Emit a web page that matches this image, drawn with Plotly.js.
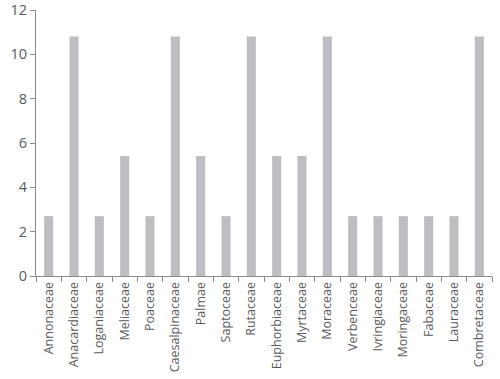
<!DOCTYPE html>
<html><head><meta charset="utf-8">
<script src="https://cdn.plot.ly/plotly-3.0.1.min.js"></script>
<style>body{margin:0;padding:0;background:#fff}#chart{width:500px;height:379px}</style>
</head><body><div id="chart"></div>
<script>
const families = ["Annonaceae","Anacardiaceae","Loganiaceae","Meliaceae","Poaceae","Caesalpinaceae","Palmae","Saptoceae","Rutaceae","Euphorbiaceae","Myrtaceae","Moraceae","Verbenceae","Ivringiaceae","Moringaceae","Fabaceae","Lauraceae","Combretaceae"];
const percentages = [2.70,10.81,2.70,5.41,2.70,10.81,5.41,2.70,10.81,5.41,5.41,10.81,2.70,2.70,2.70,2.70,2.70,10.81];
const yTicks = [0,2,4,6,8,10,12];

Plotly.newPlot('chart', [{
  type: 'bar', x: families, y: percentages,
  marker: {color: '#bdbec1'}, hoverinfo: 'none'
}], {
  width: 500, height: 379,
  margin: {l: 36, r: 8, t: 10, b: 103},
  paper_bgcolor: '#fff', plot_bgcolor: '#fff',
  bargap: 0.64,
  font: {family: 'Open Sans, sans-serif', color: '#5a5a5c'},
  xaxis: {
    type: 'category', tickangle: -90, tickfont: {size: 12.5},
    showline: true, linecolor: '#8a8a8c', linewidth: 1,
    ticks: 'outside', tickson: 'boundaries', ticklen: 5, tickcolor: '#8a8a8c',
    showgrid: false, zeroline: false, ticklabeloverflow: 'allow'
  },
  yaxis: {
    range: [0, 12], tickvals: yTicks, tickfont: {size: 14.5},
    showline: true, linecolor: '#8a8a8c', linewidth: 1,
    ticks: 'outside', ticklen: 5, tickcolor: '#8a8a8c',
    showgrid: false, zeroline: false, ticklabeloverflow: 'allow'
  },
  showlegend: false
}, {staticPlot: true});
</script></body></html>
